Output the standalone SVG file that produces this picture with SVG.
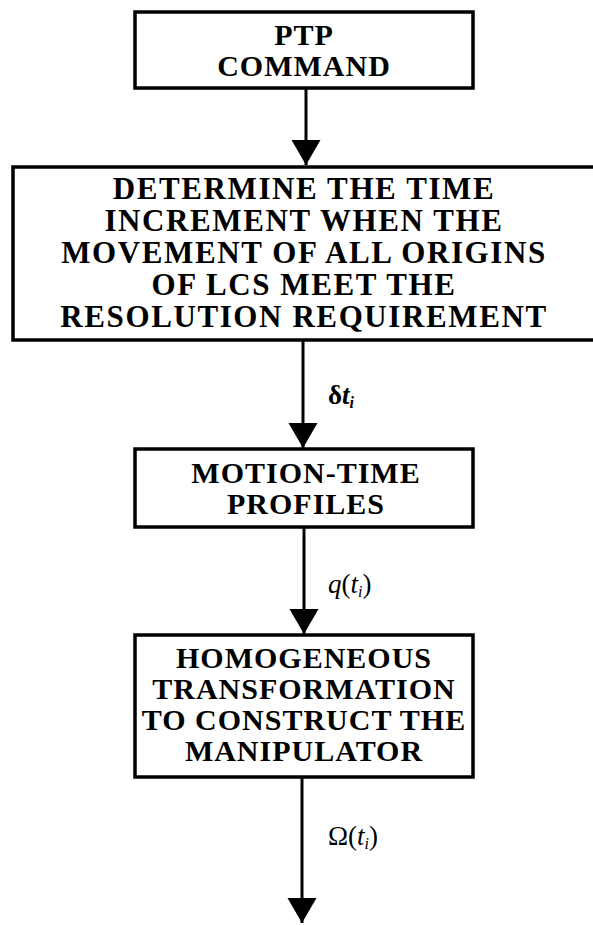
<svg xmlns="http://www.w3.org/2000/svg" width="593" height="925" viewBox="0 0 593 925">
<style>
.box{fill:#fff;stroke:#000;stroke-width:3.5}
.t{font-family:"Liberation Serif","Times New Roman",serif;font-weight:bold;font-size:30px;letter-spacing:1px;text-anchor:middle;fill:#000}
.t2{font-size:31px;letter-spacing:1.6px}
.c{stroke:#000;stroke-width:3;fill:none}
.lbl{font-family:"Liberation Serif","Times New Roman",serif;font-size:27px;fill:#000}
.it{font-style:italic}
</style>
<defs>
<marker id="ah" markerUnits="userSpaceOnUse" markerWidth="26" markerHeight="30" refX="25" refY="14.5" orient="auto">
<path d="M0,0 L25,14.5 L0,29 z" fill="#000"/>
</marker>
</defs>
<rect width="593" height="925" fill="#fff"/>
<g id="connectors">
<line class="c" x1="306" y1="88" x2="306" y2="165" marker-end="url(#ah)"/>
<line class="c" x1="303" y1="340" x2="303" y2="448" marker-end="url(#ah)"/>
<line class="c" x1="304" y1="527" x2="304" y2="634" marker-end="url(#ah)"/>
<line class="c" x1="302" y1="777" x2="302" y2="923" marker-end="url(#ah)"/>
<text class="lbl" x="328" y="404" font-weight="bold">δ<tspan class="it">t</tspan><tspan class="it" font-size="16" dy="4">i</tspan></text>
<text class="lbl" x="328" y="593"><tspan class="it">q</tspan>(<tspan class="it">t</tspan><tspan class="it" font-size="16" dy="4">i</tspan><tspan dy="-4">)</tspan></text>
<text class="lbl" x="328" y="845">Ω(<tspan class="it">t</tspan><tspan class="it" font-size="16" dy="4">i</tspan><tspan dy="-4">)</tspan></text>
</g>
<g id="n1">
<rect class="box" x="135" y="12" width="338" height="76"/>
<text class="t" x="304" y="45">PTP</text>
<text class="t" x="304" y="76">COMMAND</text>
</g>
<g id="n2">
<rect class="box" x="13" y="167" width="590" height="173"/>
<text class="t t2" x="304" y="199">DETERMINE THE TIME</text>
<text class="t t2" x="304" y="231">INCREMENT WHEN THE</text>
<text class="t t2" x="304" y="263">MOVEMENT OF ALL ORIGINS</text>
<text class="t t2" x="304" y="295">OF LCS MEET THE</text>
<text class="t t2" x="304" y="327">RESOLUTION REQUIREMENT</text>
</g>
<g id="n3">
<rect class="box" x="135" y="449" width="338" height="78"/>
<text class="t" x="306" y="483">MOTION-TIME</text>
<text class="t" x="306" y="514">PROFILES</text>
</g>
<g id="n4">
<rect class="box" x="135" y="635" width="338" height="142"/>
<text class="t" x="304" y="668">HOMOGENEOUS</text>
<text class="t" x="304" y="699">TRANSFORMATION</text>
<text class="t" x="304" y="730">TO CONSTRUCT THE</text>
<text class="t" x="304" y="761">MANIPULATOR</text>
</g>
</svg>
